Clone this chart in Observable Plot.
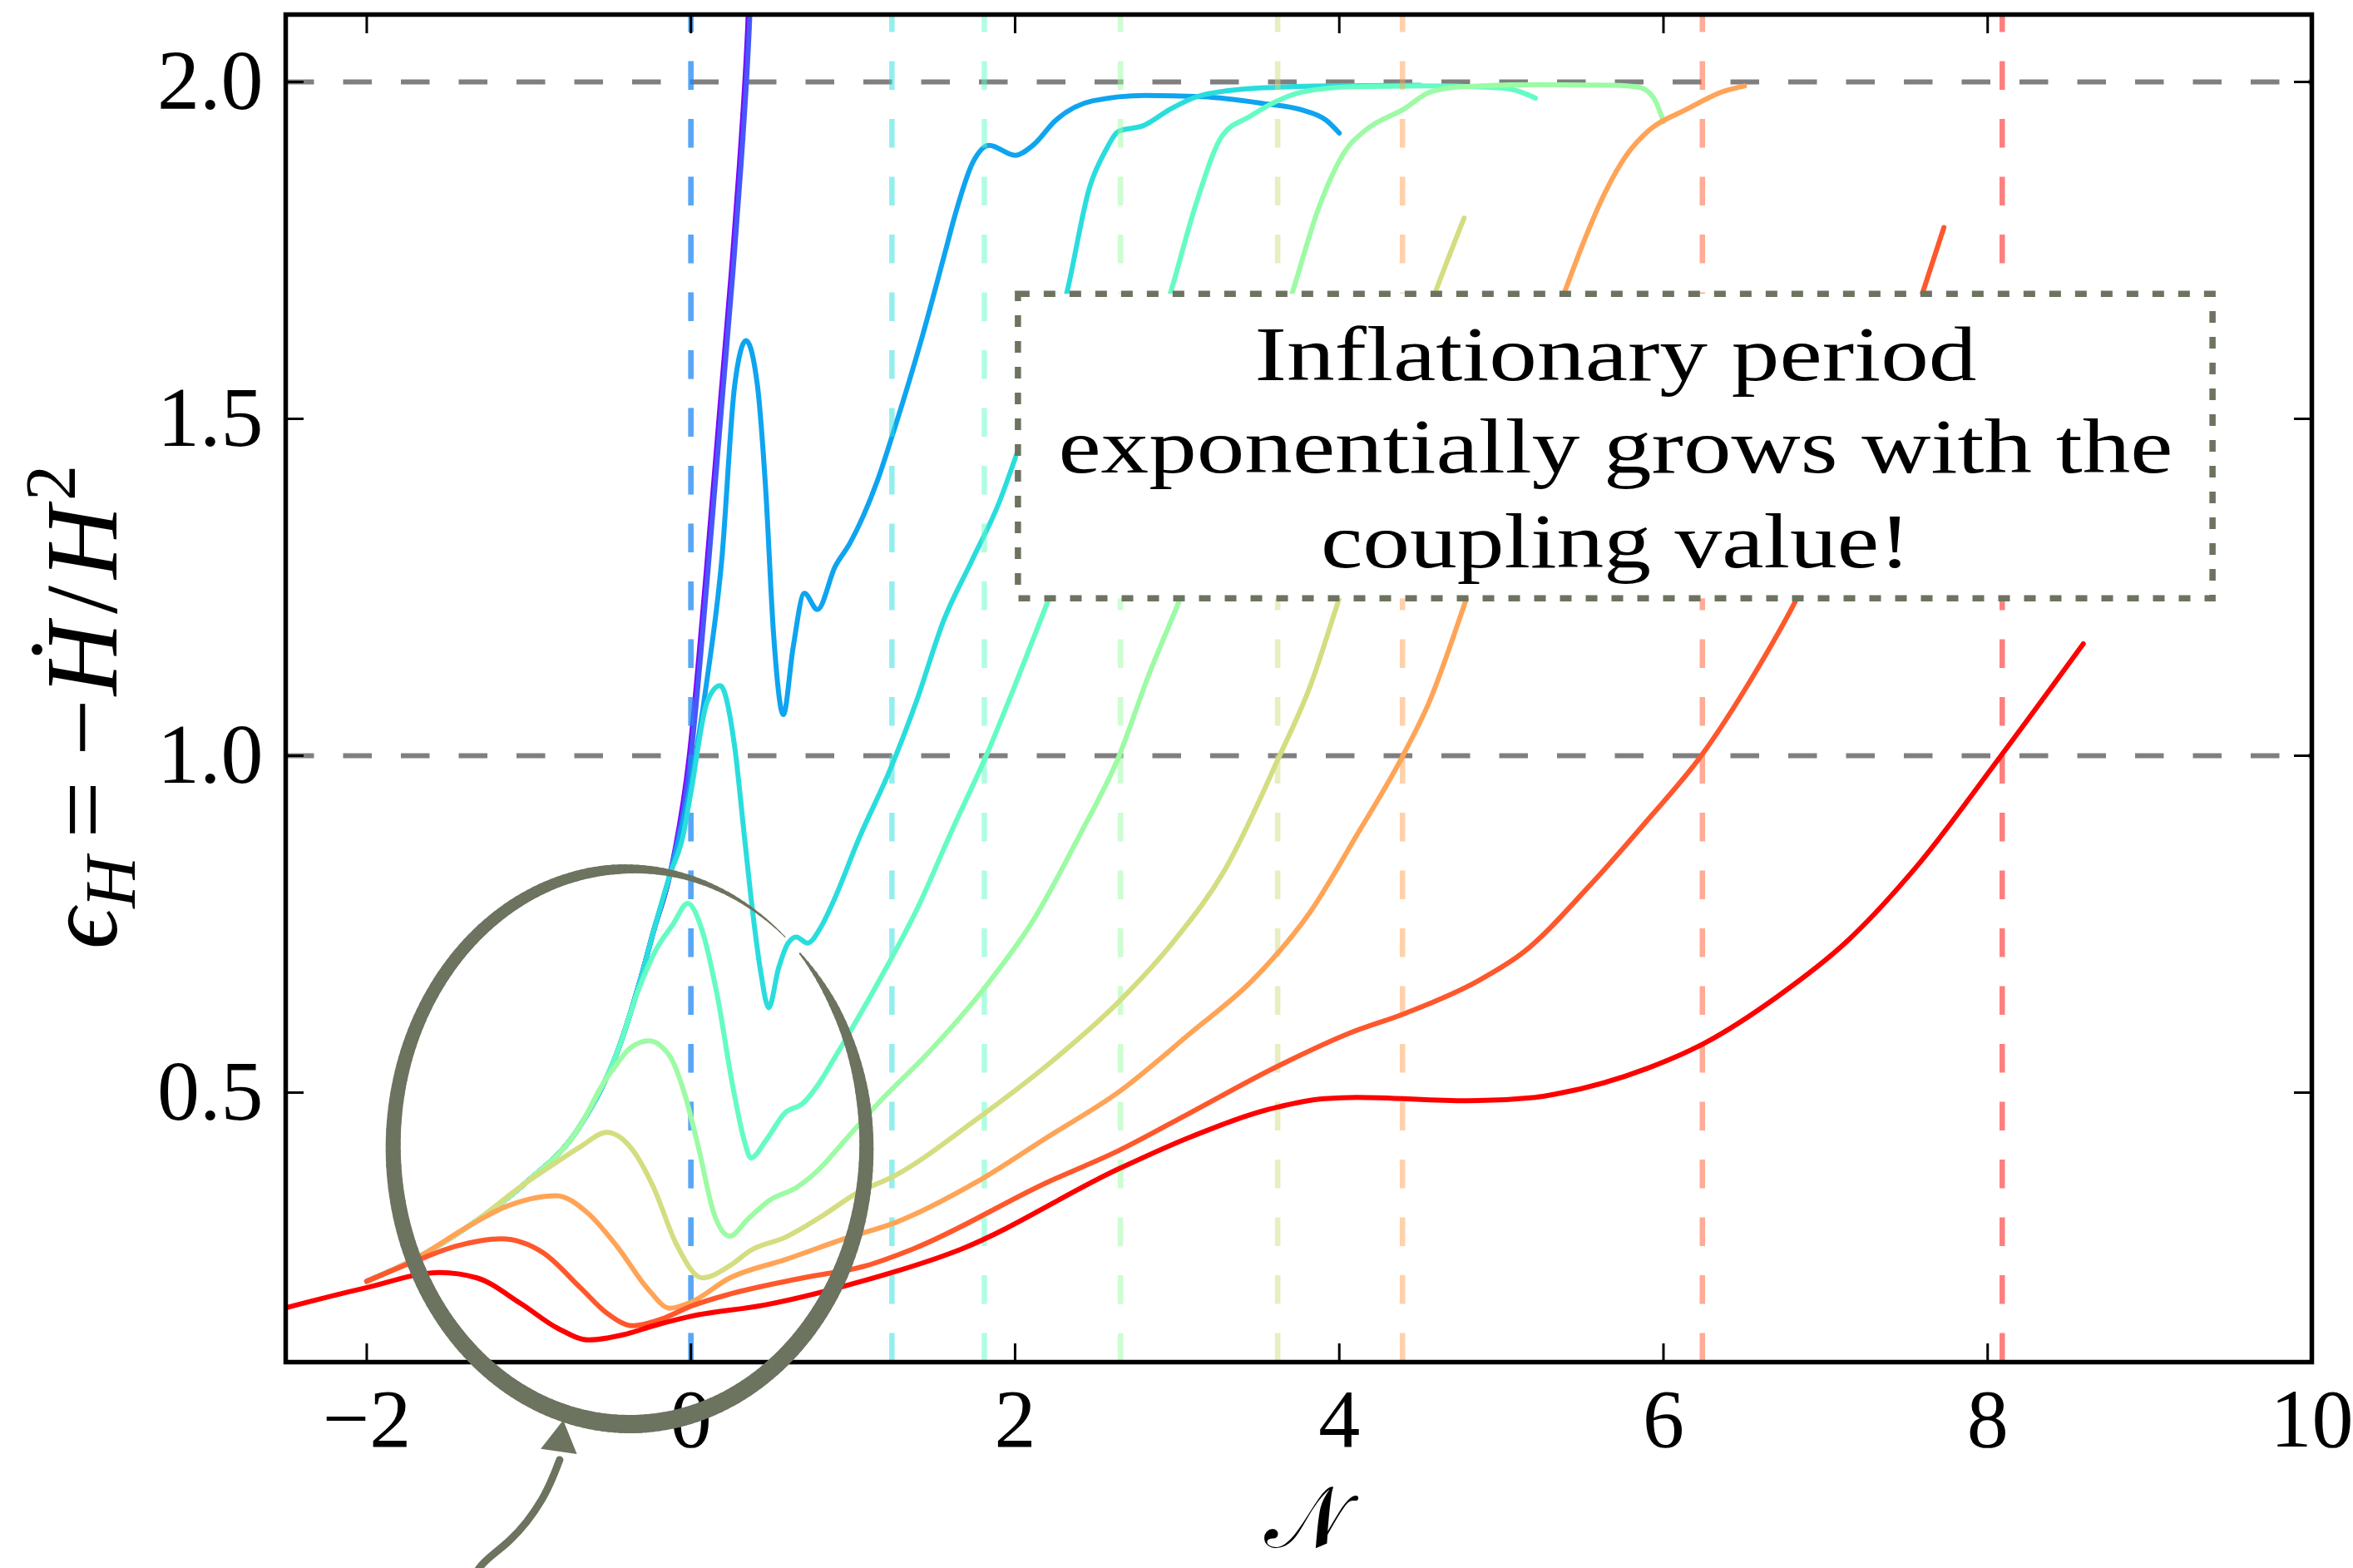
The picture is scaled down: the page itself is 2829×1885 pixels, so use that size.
<!DOCTYPE html>
<html><head><meta charset="utf-8">
<script src="https://cdn.jsdelivr.net/npm/d3@7"></script>
<script src="https://cdn.jsdelivr.net/npm/@observablehq/plot@0.6"></script>
<style>
html,body{margin:0;padding:0;background:#fff;overflow:hidden}
svg{display:block}
</style></head><body><div id="chart"></div>
<script>
// ---------------- data ----------------
const xTicks = [-2, 0, 2, 4, 6, 8, 10];
const yTicks = [0.5, 1.0, 1.5, 2.0];
const refLevels = [1.0, 2.0];

// common early-time track shared by most runs  [N, epsilon_H]
const envelope = [[-2.0,0.220],[-1.71,0.252],[-1.37,0.302],[-1.03,0.364],[-0.68,0.452],[-0.45,0.563],[-0.32,0.661],[-0.23,0.740],[-0.13,0.823]];

const run0 = envelope.concat([[-0.01,1.0],[0.09,1.26],[0.18,1.52],[0.25,1.72],[0.30,1.88],[0.35,2.08],[0.37,2.2]]);
const run1 = envelope.concat([[0.0,1.0],[0.10,1.26],[0.19,1.52],[0.26,1.72],[0.31,1.88],[0.36,2.08],[0.38,2.2]]);
const run2 = envelope.concat([[0.0,0.96],[0.10,1.114],[0.19,1.29],[0.27,1.55],[0.34,1.616],[0.41,1.55],[0.46,1.40],[0.51,1.18],[0.57,1.061],[0.63,1.16],[0.70,1.241],[0.78,1.217],[0.89,1.281],[0.98,1.315],[1.15,1.408],[1.25,1.481],[1.42,1.616],[1.57,1.749],[1.63,1.803],[1.74,1.881],[1.84,1.906],[2.00,1.891],[2.11,1.906],[2.25,1.943],[2.48,1.972],[2.80,1.980],[3.16,1.978],[3.53,1.968],[3.76,1.959],[3.92,1.943],[4.00,1.924]]);
const run3 = envelope.concat([[-0.05,0.88],[0.0,0.946],[0.10,1.080],[0.18,1.104],[0.27,1.013],[0.33,0.88],[0.38,0.77],[0.43,0.68],[0.48,0.626],[0.54,0.684],[0.60,0.722],[0.65,0.731],[0.72,0.722],[0.80,0.745],[0.87,0.779],[1.04,0.879],[1.23,0.980],[1.39,1.080],[1.56,1.201],[1.73,1.288],[1.90,1.375],[2.02,1.455],[2.32,1.688],[2.46,1.844],[2.56,1.899],[2.64,1.927],[2.79,1.935],[2.96,1.960],[3.12,1.978],[3.45,1.990],[3.94,1.994],[4.50,1.995]]);
const run4 = envelope.slice(0,6).concat([[-0.32,0.655],[-0.22,0.71],[-0.11,0.750],[-0.02,0.781],[0.07,0.740],[0.16,0.647],[0.26,0.507],[0.33,0.428],[0.37,0.403],[0.46,0.428],[0.58,0.470],[0.69,0.484],[0.81,0.521],[0.87,0.545],[1.17,0.67],[1.40,0.775],[1.61,0.889],[1.82,0.999],[2.02,1.117],[2.21,1.234],[2.96,1.688],[3.12,1.822],[3.28,1.921],[3.45,1.949],[3.61,1.971],[3.77,1.985],[4.08,1.993],[4.54,1.994],[5.00,1.991],[5.12,1.985],[5.21,1.976]]);
const run5 = envelope.slice(0,5).concat([[-0.55,0.51],[-0.45,0.545],[-0.38,0.565],[-0.26,0.577],[-0.13,0.554],[-0.04,0.499],[0.05,0.415],[0.14,0.322],[0.24,0.287],[0.35,0.312],[0.49,0.341],[0.65,0.359],[0.83,0.396],[0.87,0.407],[1.17,0.488],[1.46,0.558],[1.82,0.658],[2.11,0.755],[2.40,0.883],[2.64,0.999],[2.82,1.117],[3.02,1.234],[3.71,1.687],[3.87,1.811],[4.04,1.899],[4.17,1.930],[4.40,1.960],[4.56,1.985],[4.76,1.993],[5.23,1.996],[5.69,1.995],[5.85,1.992],[5.94,1.976],[6.00,1.941]]);
const run6 = envelope.slice(0,4).concat([[-0.87,0.39],[-0.68,0.420],[-0.52,0.441],[-0.36,0.415],[-0.23,0.359],[-0.09,0.275],[0.07,0.225],[0.24,0.243],[0.37,0.266],[0.58,0.285],[0.81,0.317],[1.01,0.349],[1.26,0.377],[1.76,0.460],[2.20,0.541],[2.64,0.635],[2.99,0.728],[3.29,0.829],[3.63,0.999],[3.82,1.103],[4.00,1.234],[4.59,1.686],[4.77,1.798]]);
const run7 = envelope.slice(0,3).concat([[-1.14,0.331],[-0.83,0.347],[-0.64,0.322],[-0.45,0.270],[-0.27,0.210],[-0.13,0.180],[0.0,0.189],[0.24,0.225],[0.58,0.252],[0.97,0.285],[1.26,0.307],[1.76,0.367],[2.20,0.434],[2.64,0.501],[3.08,0.588],[3.47,0.668],[3.82,0.768],[4.11,0.883],[4.39,0.999],[4.55,1.077],[4.79,1.237],[5.39,1.688],[5.50,1.758],[5.64,1.836],[5.78,1.894],[5.91,1.928],[6.14,1.959],[6.37,1.986],[6.50,1.994]]);
const run8 = [[-2.0,0.220],[-1.71,0.249],[-1.45,0.272],[-1.17,0.283],[-0.91,0.262],[-0.68,0.210],[-0.52,0.173],[-0.36,0.154],[-0.18,0.164],[0.0,0.183],[0.24,0.201],[0.69,0.225],[1.08,0.243],[1.37,0.268],[2.20,0.367],[2.64,0.414],[3.08,0.470],[3.61,0.538],[4.06,0.588],[4.41,0.618],[4.85,0.665],[5.14,0.709],[5.54,0.806],[5.90,0.904],[6.23,0.999],[6.55,1.117],[6.82,1.232],[7.60,1.688],[7.73,1.784]];
const run9 = [[-2.51,0.180],[-2.01,0.210],[-1.55,0.233],[-1.32,0.225],[-1.05,0.187],[-0.82,0.150],[-0.63,0.133],[-0.41,0.141],[-0.23,0.154],[0.0,0.168],[0.46,0.185],[1.01,0.217],[1.67,0.268],[2.64,0.387],[3.08,0.434],[3.61,0.478],[3.91,0.491],[4.11,0.493],[4.79,0.488],[5.21,0.493],[5.36,0.499],[5.90,0.536],[6.25,0.573],[6.70,0.642],[7.13,0.724],[7.56,0.835],[8.07,0.996],[8.59,1.166]];

// N at which each run ends inflation (epsilon_H = 1); null = no marker
const endOfInflation = [null, 0.0, 0.0, 1.24, 1.81, 2.65, 3.62, 4.39, 6.24, 8.09];

// annotation
const noteLines = ["Inflationary period", "exponentially grows with the", "coupling value!"];
const noteBaselines = [1.558, 1.420, 1.280];
const noteCenterN = 5.705;
const noteBox = {x1: 2.02, x2: 9.39, y1: 1.233, y2: 1.685};
const ring = {cx: -0.377, cy: 0.420, rx: 1.460, ry: 0.412, from: 49, to: 404};
const ringWidths = [[49,1],[58,3],[75,7],[95,12],[135,15],[180,18],[270,22],[330,20],[370,16],[390,10],[404,2]];
const arrowShaft = [[-1.36,-0.26],[-1.31,-0.207],[-1.12,-0.165],[-0.92,-0.104],[-0.81,-0.045]];
const arrowHead = {N: -0.806, e: -0.017, angle: 8};

// ---------------- styles ----------------
const runs = [run0, run1, run2, run3, run4, run5, run6, run7, run8, run9];
const colors = ["#8000ff","#4757fb","#0ea4f0","#2adddd","#64fcc3","#9cfba4","#d4dd80","#ffa457","#ff572c","#ff0000"];
const annColor = "#6c735f";
const serif = "Liberation Serif, DejaVu Serif, serif";
const xDomain = [-2.5, 10], yDomain = [0.1, 2.1];
const dash = "34.5,35";

const fmtX = d => d < 0 ? "\u2212" + Math.abs(d) : String(d);
const fmtY = d => d.toFixed(1);

// ring segments (annotation shape)
function widthAt(a) {
  for (let i = 1; i < ringWidths.length; i++) {
    const [a0, w0] = ringWidths[i-1], [a1, w1] = ringWidths[i];
    if (a <= a1) return w0 + (w1 - w0) * (a - a0) / (a1 - a0);
  }
  return ringWidths[ringWidths.length-1][1];
}
const ringSegs = [];
for (let a = ring.from; a < ring.to; a += 1.5) {
  const b = Math.min(a + 1.5, ring.to);
  const r0 = a * Math.PI / 180, r1 = b * Math.PI / 180;
  ringSegs.push({
    x1: ring.cx + ring.rx * Math.cos(r0), y1: ring.cy + ring.ry * Math.sin(r0),
    x2: ring.cx + ring.rx * Math.cos(r1), y2: ring.cy + ring.ry * Math.sin(r1),
    w: widthAt((a + b) / 2)
  });
}

const marks = [];
marks.push(Plot.ruleY(refLevels, {stroke: "black", strokeOpacity: 0.5, strokeWidth: 6, strokeDasharray: dash}));
runs.forEach((pts, i) => {
  marks.push(Plot.line(pts, {x: d => d[0], y: d => d[1], stroke: colors[i], strokeWidth: 6, curve: "monotone-x", clip: true}));
  if (endOfInflation[i] != null) {
    marks.push(Plot.ruleX([endOfInflation[i]], {y1: yDomain[0], y2: yDomain[1], stroke: colors[i], strokeOpacity: 0.5, strokeWidth: 6.5, strokeDasharray: dash}));
  }
});
marks.push(Plot.rect([noteBox], {x1: "x1", x2: "x2", y1: "y1", y2: "y2", fill: "white", stroke: annColor, strokeWidth: 7.5, strokeDasharray: "14,17"}));
marks.push(Plot.text(noteLines, {x: noteCenterN, y: (d, i) => noteBaselines[i], text: d => d, lineAnchor: "bottom", textAnchor: "middle", fontSize: 94, fontFamily: serif, fill: "black"}));
// axes: inward ticks on all four sides
marks.push(Plot.axisX(xTicks, {anchor: "bottom", tickSize: 22, dy: -22, fill: "none", strokeWidth: 3, label: null}));
marks.push(Plot.axisX(xTicks, {anchor: "top", tickSize: 22, dy: 22, fill: "none", strokeWidth: 3, label: null}));
marks.push(Plot.axisY(yTicks, {anchor: "left", tickSize: 22, dx: 22, fill: "none", strokeWidth: 3, label: null}));
marks.push(Plot.axisY(yTicks, {anchor: "right", tickSize: 22, dx: -22, fill: "none", strokeWidth: 3, label: null}));
marks.push(Plot.axisX(xTicks, {anchor: "bottom", tickSize: 0, tickPadding: 30, tickFormat: fmtX, fontSize: 100, fontFamily: serif, fill: "black", label: null}));
marks.push(Plot.axisY(yTicks, {anchor: "left", tickSize: 0, tickPadding: 27, tickFormat: fmtY, fontSize: 102, fontFamily: serif, fill: "black", label: null}));
marks.push(Plot.frame({stroke: "black", strokeWidth: 5.5}));
// annotation ring and arrow
marks.push(Plot.link(ringSegs, {x1: "x1", y1: "y1", x2: "x2", y2: "y2", strokeWidth: "w", stroke: annColor, strokeLinecap: "round"}));
marks.push(Plot.line(arrowShaft, {x: d => d[0], y: d => d[1], stroke: annColor, strokeWidth: 9, curve: "natural"}));
marks.push(Plot.dot([arrowHead], {x: "N", y: "e", symbol: "triangle", r: 16.3, fill: annColor, stroke: "none", rotate: arrowHead.angle}));

const plot = Plot.plot({
  width: 2829, height: 1885,
  marginLeft: 343, marginRight: 50, marginTop: 17, marginBottom: 248,
  x: {domain: xDomain, label: null},
  y: {domain: yDomain, label: null},
  style: {background: "white", fontFamily: serif, overflow: "hidden"},
  marks
});
document.getElementById("chart").appendChild(plot);

// post-process: stretch note lines to the reference's wide serif proportions
const noteWidths = [868, 1340, 709];
d3.select(plot).selectAll("text").each(function() {
  const k = noteLines.indexOf(this.textContent);
  if (k >= 0) d3.select(this).attr("textLength", noteWidths[k]).attr("lengthAdjust", "spacingAndGlyphs");
});

// axis titles
const svg = d3.select(plot);
const yl = svg.append("text")
  .attr("transform", "translate(140,850) rotate(-90)")
  .attr("text-anchor", "middle")
  .attr("font-family", serif).attr("font-size", 122).attr("fill", "black");
yl.append("tspan").attr("font-style", "italic").text("\u03F5");
yl.append("tspan").attr("font-style", "italic").attr("font-size", 86).attr("dy", 22).text("H");
yl.append("tspan").attr("dy", -22).attr("dx", 22).text("=");
yl.append("tspan").attr("dx", 30).text("\u2212");
yl.append("tspan").attr("font-style", "italic").attr("dx", 4).text("H\u0307");
yl.append("tspan").attr("dx", 10).text("/");
yl.append("tspan").attr("font-style", "italic").attr("dx", 8).text("H");
yl.append("tspan").attr("font-size", 86).attr("dy", -50).attr("dx", 6).text("2");

svg.append("text")
  .attr("x", 1570).attr("y", 1860)
  .attr("text-anchor", "middle")
  .attr("font-family", "DejaVu Serif, DejaVu Sans, Liberation Serif, serif")
  .attr("font-size", 104).attr("fill", "black")
  .text("\uD835\uDCA9");
</script></body></html>
